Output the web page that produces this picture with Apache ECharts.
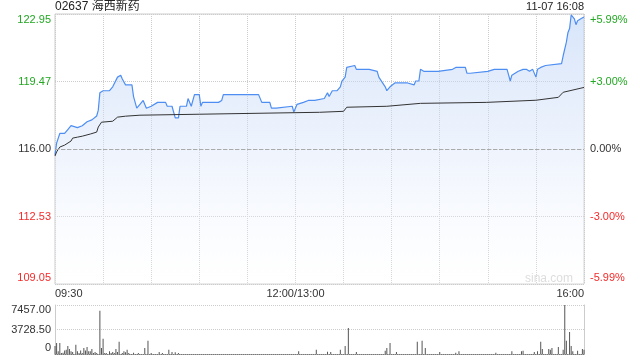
<!DOCTYPE html>
<html><head><meta charset="utf-8">
<script src="https://cdn.jsdelivr.net/npm/echarts@6/dist/echarts.min.js"></script>
<style>html,body{margin:0;padding:0;background:#fff}#c{width:640px;height:360px}</style>
</head><body><div id="c"></div>
<script>
const stockTitle = '02637 海西新药';
const stampText = '11-07 16:08';
const watermark = 'sina.com';
const prevClose = 116.00;
const priceLabels = ['109.05','112.53','116.00','119.47','122.95'];
const pctLabels = ['-5.99%','-3.00%','0.00%','+3.00%','+5.99%'];
const volLabels = ['0','3728.50','7457.00'];
const xLabelPos = [0,150,330];
const xLabelText = ['09:30','12:00/13:00','16:00'];

const priceTimes = ['09:30','09:31','09:33','09:34','09:36','09:38','09:40','09:41','09:44','09:47','09:50','09:53','09:56','09:57','09:58','10:00','10:04','10:06','10:07','10:09','10:11','10:12','10:14','10:18','10:19','10:21','10:23','10:25','10:26','10:27','10:30','10:34','10:39','10:40','10:43','10:44','10:45','10:47','10:48','10:52','10:53','10:54','10:55','10:57','11:00','11:01','11:02','11:12','11:14','11:15','11:29','11:35','11:36','11:37','11:39','11:44','11:45','11:48','11:49','11:58','11:59','13:01','13:05','13:08','13:12','13:13','13:18','13:20','13:21','13:23','13:26','13:28','13:29','13:31','13:32','13:33','13:37','13:38','13:46','13:47','13:51','13:52','13:56','13:57','13:58','13:59','14:02','14:10','14:11','14:14','14:15','14:16','14:17','14:18','14:20','14:21','14:23','14:29','14:30','14:38','14:40','14:41','14:43','14:46','14:47','14:49','14:50','15:00','15:04','15:12','15:13','15:14','15:15','15:17','15:19','15:20','15:22','15:23','15:24','15:26','15:28','15:29','15:30','15:31','15:33','15:36','15:46','15:47','15:49','15:50','15:51','15:52','15:54','15:55','15:56','15:58','16:00'];
const priceValues = [115.7,116.3,116.8,116.7,116.8,117.0,117.2,117.1,117.1,117.2,117.4,117.5,117.7,118.0,118.9,119.0,119.0,119.2,119.1,119.7,119.8,119.6,119.3,119.3,118.7,118.1,118.3,118.5,118.4,118.1,118.2,118.4,118.4,118.2,118.2,118.3,117.6,117.6,118.2,118.2,118.6,118.6,118.2,118.8,118.8,118.2,118.4,118.4,118.5,118.8,118.8,118.8,118.7,118.8,118.4,118.4,118.1,118.1,118.2,118.2,117.9,118.3,118.4,118.5,118.5,118.6,118.6,118.9,118.7,119.0,119.0,119.2,119.5,119.7,120.2,120.3,120.3,120.1,120.1,120.0,120.0,119.7,119.2,119.0,119.1,119.2,119.4,119.4,119.3,119.3,119.5,119.6,119.5,120.1,120.0,120.1,120.0,120.0,120.1,120.1,120.2,120.1,120.2,120.2,119.9,119.9,120.0,120.0,120.1,120.1,119.8,119.5,119.8,119.9,120.0,120.0,120.1,120.0,120.1,120.0,120.1,120.1,119.7,120.1,120.2,120.3,120.4,120.8,121.5,122.0,122.2,122.9,122.7,122.4,122.6,122.7,122.8];

const avgTimes = ['09:30','09:31','09:33','09:36','09:40','09:41','09:44','09:47','09:52','09:56','09:57','09:59','10:06','10:09','10:14','10:23','11:00','13:15','13:30','13:32','13:57','14:18','14:59','15:30','15:44','15:47','16:00'];
const avgValues = [115.64,115.85,116.10,116.20,116.41,116.56,116.61,116.66,116.77,116.87,117.13,117.38,117.43,117.64,117.69,117.74,117.79,117.89,117.94,118.15,118.20,118.35,118.40,118.51,118.66,118.92,119.17];

const volTimes = ['09:30','09:31','09:32','09:33','09:34','09:35','09:36','09:37','09:38','09:39','09:40','09:41','09:43','09:44','09:45','09:46','09:47','09:48','09:49','09:50','09:51','09:52','09:53','09:54','09:55','09:56','09:58','09:59','10:00','10:01','10:02','10:04','10:05','10:06','10:07','10:08','10:09','10:10','10:12','10:13','10:14','10:15','10:16','10:19','10:22','10:26','10:28','10:30','10:35','10:37','10:41','10:43','10:45','10:47','13:02','13:13','13:20','13:22','13:28','13:31','13:33','13:38','13:56','13:57','13:59','14:03','14:16','14:19','14:21','14:30','14:40','14:42','15:05','15:15','15:21','15:22','15:29','15:31','15:33','15:34','15:38','15:39','15:40','15:44','15:47','15:48','15:49','15:51','15:52','15:53','15:56','15:59','16:00'];
const volValues = [1220,1670,400,1670,150,200,550,650,1220,750,400,300,1400,400,150,550,150,900,550,1050,400,400,750,150,300,150,6600,900,2330,150,150,400,150,300,150,750,300,1870,150,400,250,650,150,200,150,900,2030,150,300,150,650,300,250,150,400,650,350,300,650,1220,3960,300,500,900,1670,300,1870,2030,900,300,200,400,200,400,400,500,300,400,1870,750,750,650,900,1050,650,7457,2030,3350,1220,400,500,750,650];

function toMin(t){ const p=t.split(':').map(Number); const a=p[0]*60+p[1]; return a<=720 ? a-570 : a-780+150; }
const priceData = priceTimes.map((t,i)=>[toMin(t), priceValues[i]]);
const avgData = avgTimes.map((t,i)=>[toMin(t), avgValues[i]]);
const volData = volTimes.map((t,i)=>[toMin(t), volValues[i]]);

const GREEN = '#22a822', RED = '#f42a2a', DARK = '#333';
const FONT = '"Liberation Sans", Arial, sans-serif';
const pctStep = 2.995;
function idxOf(v){ return Math.round(v/pctStep)+2; }
function richFor(i, txt){
  const c = i>2 ? 'g' : (i<2 ? 'r' : 'k');
  const pos = i===4 ? 'T' : (i===0 ? 'B' : '');
  return '{' + c + pos + '|' + txt + '}';
}
function mkRich(){
  const base = {fontSize:11, fontFamily:FONT};
  const r = {};
  [['g',GREEN],['r',RED],['k',DARK]].forEach(([k,col])=>{
    r[k] = Object.assign({color:col}, base);
    r[k+'T'] = Object.assign({color:col, padding:[12,0,0,0]}, base);
    r[k+'B'] = Object.assign({color:col, padding:[0,0,12,0]}, base);
  });
  return r;
}

const chart = echarts.init(document.getElementById('c'), null, {renderer:'canvas'});
chart.setOption({
  animation:false,
  backgroundColor:'#fff',
  grid:[
    {left:55, top:14, width:529, height:270, show:true, borderColor:'#ccc', borderWidth:1},
    {left:55, top:305, width:529, height:49, show:false}
  ],
  graphic:[
    {type:'text', left:55, top:1, style:{text:stockTitle, font:'12px "Liberation Sans","Noto Sans CJK SC",sans-serif', fill:'#222'}},
    {type:'text', right:56, top:1, style:{text:stampText, font:'11px "Liberation Sans",sans-serif', fill:'#222'}},
    {type:'text', right:67, top:273, style:{text:watermark, font:'12px "Liberation Sans",sans-serif', fill:'#d4d4d4'}}
  ],
  xAxis:[
    {gridIndex:0, type:'value', min:0, max:330, interval:30,
     axisLine:{show:false}, axisTick:{show:false},
     splitLine:{show:true, lineStyle:{color:'#ccc', type:'dotted', width:1}},
     axisLabel:{show:true, margin:4, color:DARK, fontSize:11, fontFamily:FONT,
       showMinLabel:true, showMaxLabel:true, alignMinLabel:'left', alignMaxLabel:'right',
       formatter:function(v){ const k = xLabelPos.indexOf(Math.round(v)); return k>=0 ? xLabelText[k] : ''; }}},
    {gridIndex:1, type:'value', min:0, max:330, interval:30,
     axisLine:{show:true, onZero:false, lineStyle:{color:'#777', type:[1,1], width:1}},
     axisTick:{show:false}, splitLine:{show:false}, axisLabel:{show:false}}
  ],
  yAxis:[
    {gridIndex:0, type:'value', position:'left', min:-5.99, max:5.99, interval:pctStep,
     axisLine:{show:false}, axisTick:{show:false},
     splitLine:{show:true, lineStyle:{color:'#ccc', type:'dotted', width:1}},
     axisLabel:{margin:4, rich:mkRich(), formatter:function(v){ const i=idxOf(v); return richFor(i, priceLabels[i]); }}},
    {gridIndex:0, type:'value', position:'right', min:-5.99, max:5.99, interval:pctStep,
     axisLine:{show:false}, axisTick:{show:false}, splitLine:{show:false},
     axisLabel:{margin:6, rich:mkRich(), formatter:function(v){ const i=idxOf(v); return richFor(i, pctLabels[i]); }}},
    {gridIndex:0, type:'value', min:priceLabels[0]*1, max:priceLabels[4]*1, show:false, splitLine:{show:false}},
    {gridIndex:1, type:'value', position:'left', min:0, max:7457, interval:3728.5,
     axisLine:{show:true, lineStyle:{color:'#ccc'}}, axisTick:{show:false},
     splitLine:{show:true, lineStyle:{color:'#ccc', type:'dotted', width:1}},
     axisLabel:{margin:4, rich:{
        m:{color:DARK, fontSize:11, fontFamily:FONT},
        T:{color:DARK, fontSize:11, fontFamily:FONT, padding:[10,0,0,0]},
        B:{color:DARK, fontSize:11, fontFamily:FONT, padding:[0,0,12,0]}},
       formatter:function(v){ const i=Math.round(v/3728.5); const tag = i===2?'T':(i===0?'B':'m'); return '{'+tag+'|'+volLabels[i]+'}'; }}},
    {gridIndex:1, type:'value', position:'right', min:0, max:7457,
     axisLine:{show:true, lineStyle:{color:'#ccc'}}, axisTick:{show:false}, splitLine:{show:false}, axisLabel:{show:false}}
  ],
  series:[
    {type:'line', xAxisIndex:0, yAxisIndex:2, data:priceData, showSymbol:false, symbol:'none',
     lineStyle:{color:'#4e8ef2', width:1.2}, z:3,
     areaStyle:{origin:'start', color:new echarts.graphic.LinearGradient(0,0,0,1,[
        {offset:0, color:'rgba(180,205,245,0.75)'},
        {offset:0.5, color:'rgba(215,228,250,0.6)'},
        {offset:1, color:'rgba(255,255,255,0.3)'}])},
     markLine:{silent:true, symbol:['none','none'], label:{show:false},
       lineStyle:{color:'#aaa', type:'dashed', width:1}, data:[{yAxis:prevClose}]}},
    {type:'line', xAxisIndex:0, yAxisIndex:2, data:avgData, showSymbol:false, symbol:'none',
     lineStyle:{color:'#333', width:1}, z:4},
    {type:'bar', xAxisIndex:1, yAxisIndex:3, data:volData, barWidth:1, itemStyle:{color:'#555'}}
  ]
});
</script></body></html>
